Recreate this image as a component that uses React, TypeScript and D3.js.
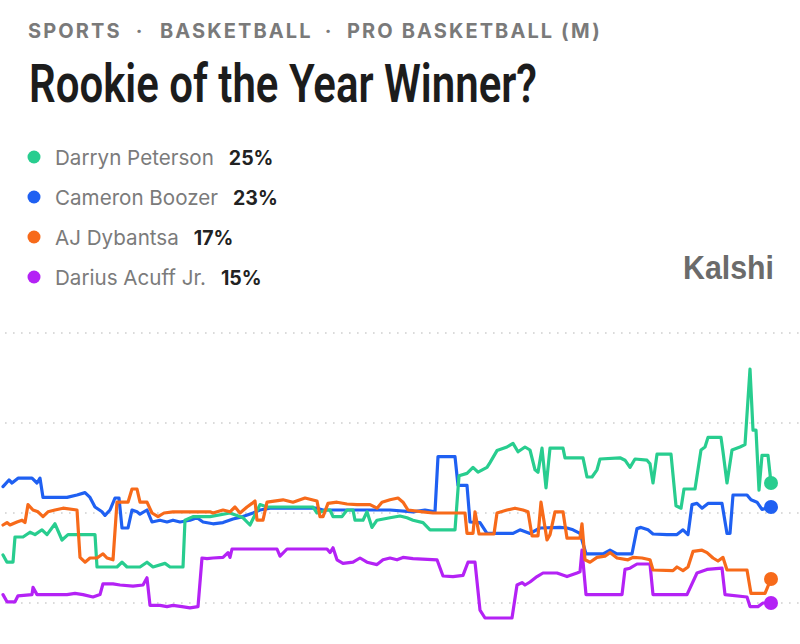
import React from 'react';
import * as d3 from 'd3';

const WIDTH = 800;
const HEIGHT = 644;

const breadcrumb = ['SPORTS', 'BASKETBALL', 'PRO BASKETBALL (M)'];
const title = 'Rookie of the Year Winner?';
const names = ['Darryn Peterson', 'Cameron Boozer', 'AJ Dybantsa', 'Darius Acuff Jr.'];
const latest = [25, 23, 17, 15];
const colors = ['#28cd8f', '#1f60f2', '#f76a1a', '#b422f5'];
const gridTicks = [15, 22.5, 30, 37.5];

// [step, chance %]
const peterson = [
  [0, 19.0], [1, 18.4], [2.5, 18.4], [3, 20.5], [5, 20.5], [6.75, 20.9], [8, 20.7], [9.75, 21.1],
  [11, 20.7], [13, 21.6], [14.75, 20.25], [16.25, 20.7], [23, 20.7], [23.5, 18.0], [28.5, 18.0],
  [29.75, 18.4], [31, 18.0], [34.25, 18.0], [36, 18.4], [37.5, 18.0], [40.5, 18.3], [41.75, 18.0],
  [45, 18.0], [45.5, 21.9], [47.5, 22.2], [51.75, 22.2], [56.75, 22.5], [60, 22.1], [61.75, 21.5],
  [64.25, 23.2], [66, 23.0], [77.5, 23.0], [78.5, 22.5], [81, 22.75], [81.75, 22.75], [82.5, 22.2],
  [84.75, 22.2], [86, 22.75], [87.5, 22.75], [88, 21.9], [90, 21.9], [91, 22.6], [92.25, 21.3],
  [93.5, 21.9], [96.75, 22.1], [99.25, 22.25], [101, 22.1], [102.5, 21.9], [105, 21.7], [106.75, 21.1],
  [113, 21.1], [114, 25.6], [116, 25.8], [117.5, 26.3], [118.75, 25.9], [121, 26.3], [121.75, 26.7],
  [123.5, 27.7], [126, 28.0], [127.5, 28.3], [128.75, 27.6], [130.5, 28.0], [131.75, 27.75],
  [133, 26.1], [133.75, 25.9], [134.75, 27.9], [135.75, 24.6], [136.75, 27.9], [140, 27.9],
  [140.5, 27.1], [145, 27.1], [146, 25.5], [147.25, 25.5], [148.5, 26.1], [149.25, 27.0],
  [154.25, 27.1], [155.5, 26.9], [156.75, 26.3], [158, 27.0], [161, 26.9], [161.75, 26.6],
  [162.5, 25.0], [163.5, 27.4], [167, 27.4], [168.25, 23.1], [169.5, 22.9], [170.25, 24.5],
  [173, 24.5], [174.5, 27.75], [175.5, 28.0], [176.25, 28.8], [179.5, 28.8], [180, 27.6],
  [181, 25.0], [182.25, 27.75], [184.25, 28.0], [185.5, 28.2], [186.75, 34.5], [187.5, 29.4],
  [188.25, 29.4], [189, 24.4], [189.75, 27.3], [191.25, 27.3], [192, 25],
];

const boozer = [
  [0, 24.7], [1.5, 25.25], [2.25, 25.0], [3.75, 25.4], [7.25, 25.4], [8.5, 25.0], [9.25, 25.4],
  [10, 23.8], [16, 23.8], [18.5, 24.0], [20.5, 24.2], [21.75, 23.8], [23, 23.0], [24.75, 22.6],
  [25.5, 22.3], [26.75, 22.75], [28, 23.75], [29, 23.75], [29.75, 21.25], [31.25, 21.25],
  [32.25, 22.75], [33.5, 22.6], [34.25, 22.4], [36, 22.75], [37.25, 21.75], [39.25, 21.9],
  [41, 21.75], [42.5, 21.9], [44.25, 21.75], [46.75, 21.9], [48.5, 22.1], [50, 21.75], [52.5, 21.6],
  [55, 21.7], [57.5, 22.0], [60, 22.2], [62.5, 22.5], [64.25, 22.75], [66.75, 22.9], [78.5, 22.9],
  [80, 22.75], [96.75, 22.75], [102.5, 22.6], [105.5, 22.75], [108, 22.6], [108.75, 27.2],
  [113, 27.2], [113.75, 24.8], [116, 24.8], [116.75, 21.75], [119.25, 21.7], [121, 20.8],
  [127.5, 20.8], [129.25, 21.1], [131.75, 20.8], [134.25, 21.25], [139.25, 21.3], [141, 21.25],
  [142.5, 21.1], [144.25, 20.8], [145.75, 19.1], [150, 19.1], [151.75, 19.4], [153.5, 19.1],
  [157.25, 19.1], [158.5, 21.2], [159.5, 21.3], [161.25, 21.1], [162.5, 20.75], [166, 20.7],
  [168.5, 20.7], [170, 21.1], [171.25, 20.7], [172.25, 23.2], [173.5, 23.3], [174.75, 22.9],
  [176.25, 23.3], [179.75, 23.3], [181, 20.8], [181.75, 20.8], [182.5, 24.0], [186, 24.0],
  [187, 23.6], [188.5, 23.4], [189.75, 22.8], [192, 23],
];

const dybantsa = [
  [0, 21.5], [1, 21.7], [1.75, 21.5], [3.5, 21.75], [4.75, 21.9], [5.5, 21.7], [6.25, 23.2],
  [7.5, 22.75], [8.75, 22.6], [10, 22.2], [11.25, 22.6], [13, 22.75], [15, 22.9], [18.5, 22.75],
  [19.25, 18.8], [20.5, 18.4], [21.75, 18.75], [23.5, 18.75], [25, 19.1], [26, 18.75], [27.5, 18.6],
  [28.5, 23.4], [31.25, 23.4], [32.25, 24.5], [33.5, 24.5], [34.25, 23.4], [36, 23.4], [37.25, 22.5],
  [38.75, 22.2], [40.25, 22.5], [42.5, 22.6], [51.75, 22.6], [52.5, 22.5], [55, 22.75], [56.75, 22.6],
  [58, 23.0], [59.25, 22.5], [61, 23.0], [62.25, 23.3], [63, 23.5], [63.5, 21.9], [65, 21.9],
  [66, 23.4], [70, 23.6], [72.5, 23.4], [75.5, 23.75], [78.5, 23.5], [79.25, 22.2], [80, 22.2],
  [81.25, 23.3], [83.5, 23.4], [86, 23.25], [88.5, 23.2], [91.75, 23.2], [93.5, 22.9], [94.75, 23.4],
  [96.75, 23.6], [98.75, 23.75], [100, 23.4], [101.25, 22.75], [105, 22.6], [107.5, 22.5],
  [115.5, 22.5], [116, 20.8], [117.5, 20.8], [118, 22.6], [119, 20.75], [122.75, 20.75],
  [123.5, 22.5], [126, 22.75], [128, 22.9], [130, 22.75], [131.25, 22.6], [132.25, 20.6],
  [133.75, 20.6], [134.5, 23.4], [136, 20.25], [136.75, 20.7], [138, 22.6], [140, 22.6], [141, 20.4],
  [144.25, 20.4], [144.75, 21.6], [145.5, 18.6], [146.75, 18.4], [148.5, 18.8], [150.5, 18.9],
  [151.75, 19.2], [153.5, 18.75], [156.25, 18.6], [157.5, 18.8], [159.75, 18.75], [161.75, 18.6],
  [162.5, 17.75], [167.5, 17.7], [168.5, 18.0], [170, 17.7], [171.25, 18.0], [172.5, 19.3],
  [174.75, 19.4], [176, 19.2], [177.5, 18.75], [178.75, 18.5], [180, 18.8], [181, 17.75],
  [186, 17.75], [187, 15.8], [190.5, 15.8], [192, 17],
];

const acuff = [
  [0, 15.7], [1, 15.1], [3, 15.1], [3.75, 15.6], [7.25, 15.7], [7.5, 16.3], [8.5, 15.7], [16, 15.7],
  [18, 15.8], [20, 15.7], [22.5, 15.5], [24.25, 15.7], [25, 16.6], [27.5, 16.6], [29.25, 16.5],
  [32.5, 16.4], [35, 16.5], [36, 17.1], [36.75, 14.8], [39.25, 14.8], [41, 14.7], [42.5, 14.8],
  [44.75, 14.7], [46.75, 14.6], [48.75, 14.7], [49.75, 18.75], [51, 18.7], [52.5, 18.75], [55, 18.8],
  [56.25, 19.2], [56.75, 18.8], [57.25, 19.5], [68.5, 19.5], [69.25, 18.9], [71, 19.5], [81, 19.5],
  [81.75, 19.2], [82.5, 19.6], [83.5, 18.6], [85, 18.3], [87.5, 18.4], [89.25, 18.75], [91, 18.4],
  [93.5, 18.2], [95, 18.6], [96.75, 18.75], [98.5, 18.6], [100, 18.8], [102.5, 18.7], [108.5, 18.6],
  [110, 17.25], [112.5, 17.2], [115, 17.3], [116.25, 18.4], [118, 18.4], [119.25, 14.4],
  [120.5, 13.75], [127.25, 13.75], [128.5, 16.5], [129.75, 16.7], [130.5, 16.5], [131.75, 16.75],
  [133.5, 17.2], [135, 17.5], [138.5, 17.5], [141, 17.2], [143.5, 17.5], [144.25, 17.6],
  [144.75, 19.4], [145.75, 15.7], [154.75, 15.7], [155.5, 17.8], [156.75, 17.9], [158.5, 18.25],
  [161.75, 18.25], [162.5, 15.7], [171, 15.7], [173.5, 17.5], [176, 17.8], [179.75, 17.9],
  [180.5, 15.7], [186, 15.5], [186.75, 14.7], [188.75, 14.7], [190, 15.0], [192, 15],
];

const series = [peterson, boozer, dybantsa, acuff];
// bottom to top
const drawOrder = [3, 1, 0, 2];

const x = d3.scaleLinear().domain([0, 192]).range([3, 771]);
const y = d3.scaleLinear().domain([15, 37.5]).range([603, 333]);

const line = d3
  .line<number[]>()
  .x((d) => x(d[0]))
  .y((d) => y(d[1]));

const sans = 'Inter, "Noto Sans", sans-serif';

const Header = () => {
  const starts = [28, 160, 347];
  const seps = [139, 328];
  return (
    <g fontFamily={sans} fontWeight={700} fontSize={20} fill="#7a7a7a" letterSpacing={2.1}>
      {breadcrumb.map((b, i) => (
        <text key={b} x={starts[i]} y={37.5}>
          {b}
        </text>
      ))}
      {seps.map((s) => (
        <text key={s} x={s} y={37.5} textAnchor="middle" letterSpacing={0}>
          ·
        </text>
      ))}
    </g>
  );
};

const Legend = () => (
  <g fontFamily={sans}>
    {names.map((n, i) => (
      <g key={n} transform={`translate(0, ${157 + i * 40})`}>
        <circle cx={34} cy={0} r={6.5} fill={colors[i]} />
        <text x={55} y={7.5}>
          <tspan fill="#7b7b7b" fontSize={20.6}>
            {n}
          </tspan>
          <tspan dx={15} fill="#222" fontWeight={700} fontSize={19.5}>
            {`${latest[i]}%`}
          </tspan>
        </text>
      </g>
    ))}
  </g>
);

const App = () => (
  <svg
    width={WIDTH}
    height={HEIGHT}
    style={{ position: 'absolute', left: 0, top: 0, background: '#fff' }}
  >
    <Header />
    <text
      x={29}
      y={102}
      fontFamily='Roboto, "Noto Sans", sans-serif'
      fontWeight={600}
      fontSize={53}
      fill="#1c1c1c"
      textLength={508}
      lengthAdjust="spacingAndGlyphs"
    >
      {title}
    </text>
    <Legend />
    <text
      x={774}
      y={279}
      textAnchor="end"
      fontFamily='"Liberation Sans", Arial, sans-serif'
      fontWeight={700}
      fontSize={33}
      fill="#6b6b6b"
      textLength={91}
      lengthAdjust="spacingAndGlyphs"
    >
      Kalshi
    </text>

    <g>
      {gridTicks.map((t) => (
        <line
          key={t}
          x1={5}
          x2={WIDTH}
          y1={y(t)}
          y2={y(t)}
          stroke="#cfcfcf"
          strokeWidth={1.6}
          strokeDasharray="1.6 6.4"
        />
      ))}
    </g>

    <g fill="none" strokeWidth={3.2} strokeLinejoin="round" strokeLinecap="round">
      {drawOrder.map((i) => (
        <path key={names[i]} d={line(series[i]) ?? ''} stroke={colors[i]} />
      ))}
    </g>
    <g>
      {drawOrder.map((i) => {
        const last = series[i][series[i].length - 1];
        return <circle key={names[i]} cx={x(last[0])} cy={y(last[1])} r={7} fill={colors[i]} />;
      })}
    </g>
  </svg>
);

export default App;
